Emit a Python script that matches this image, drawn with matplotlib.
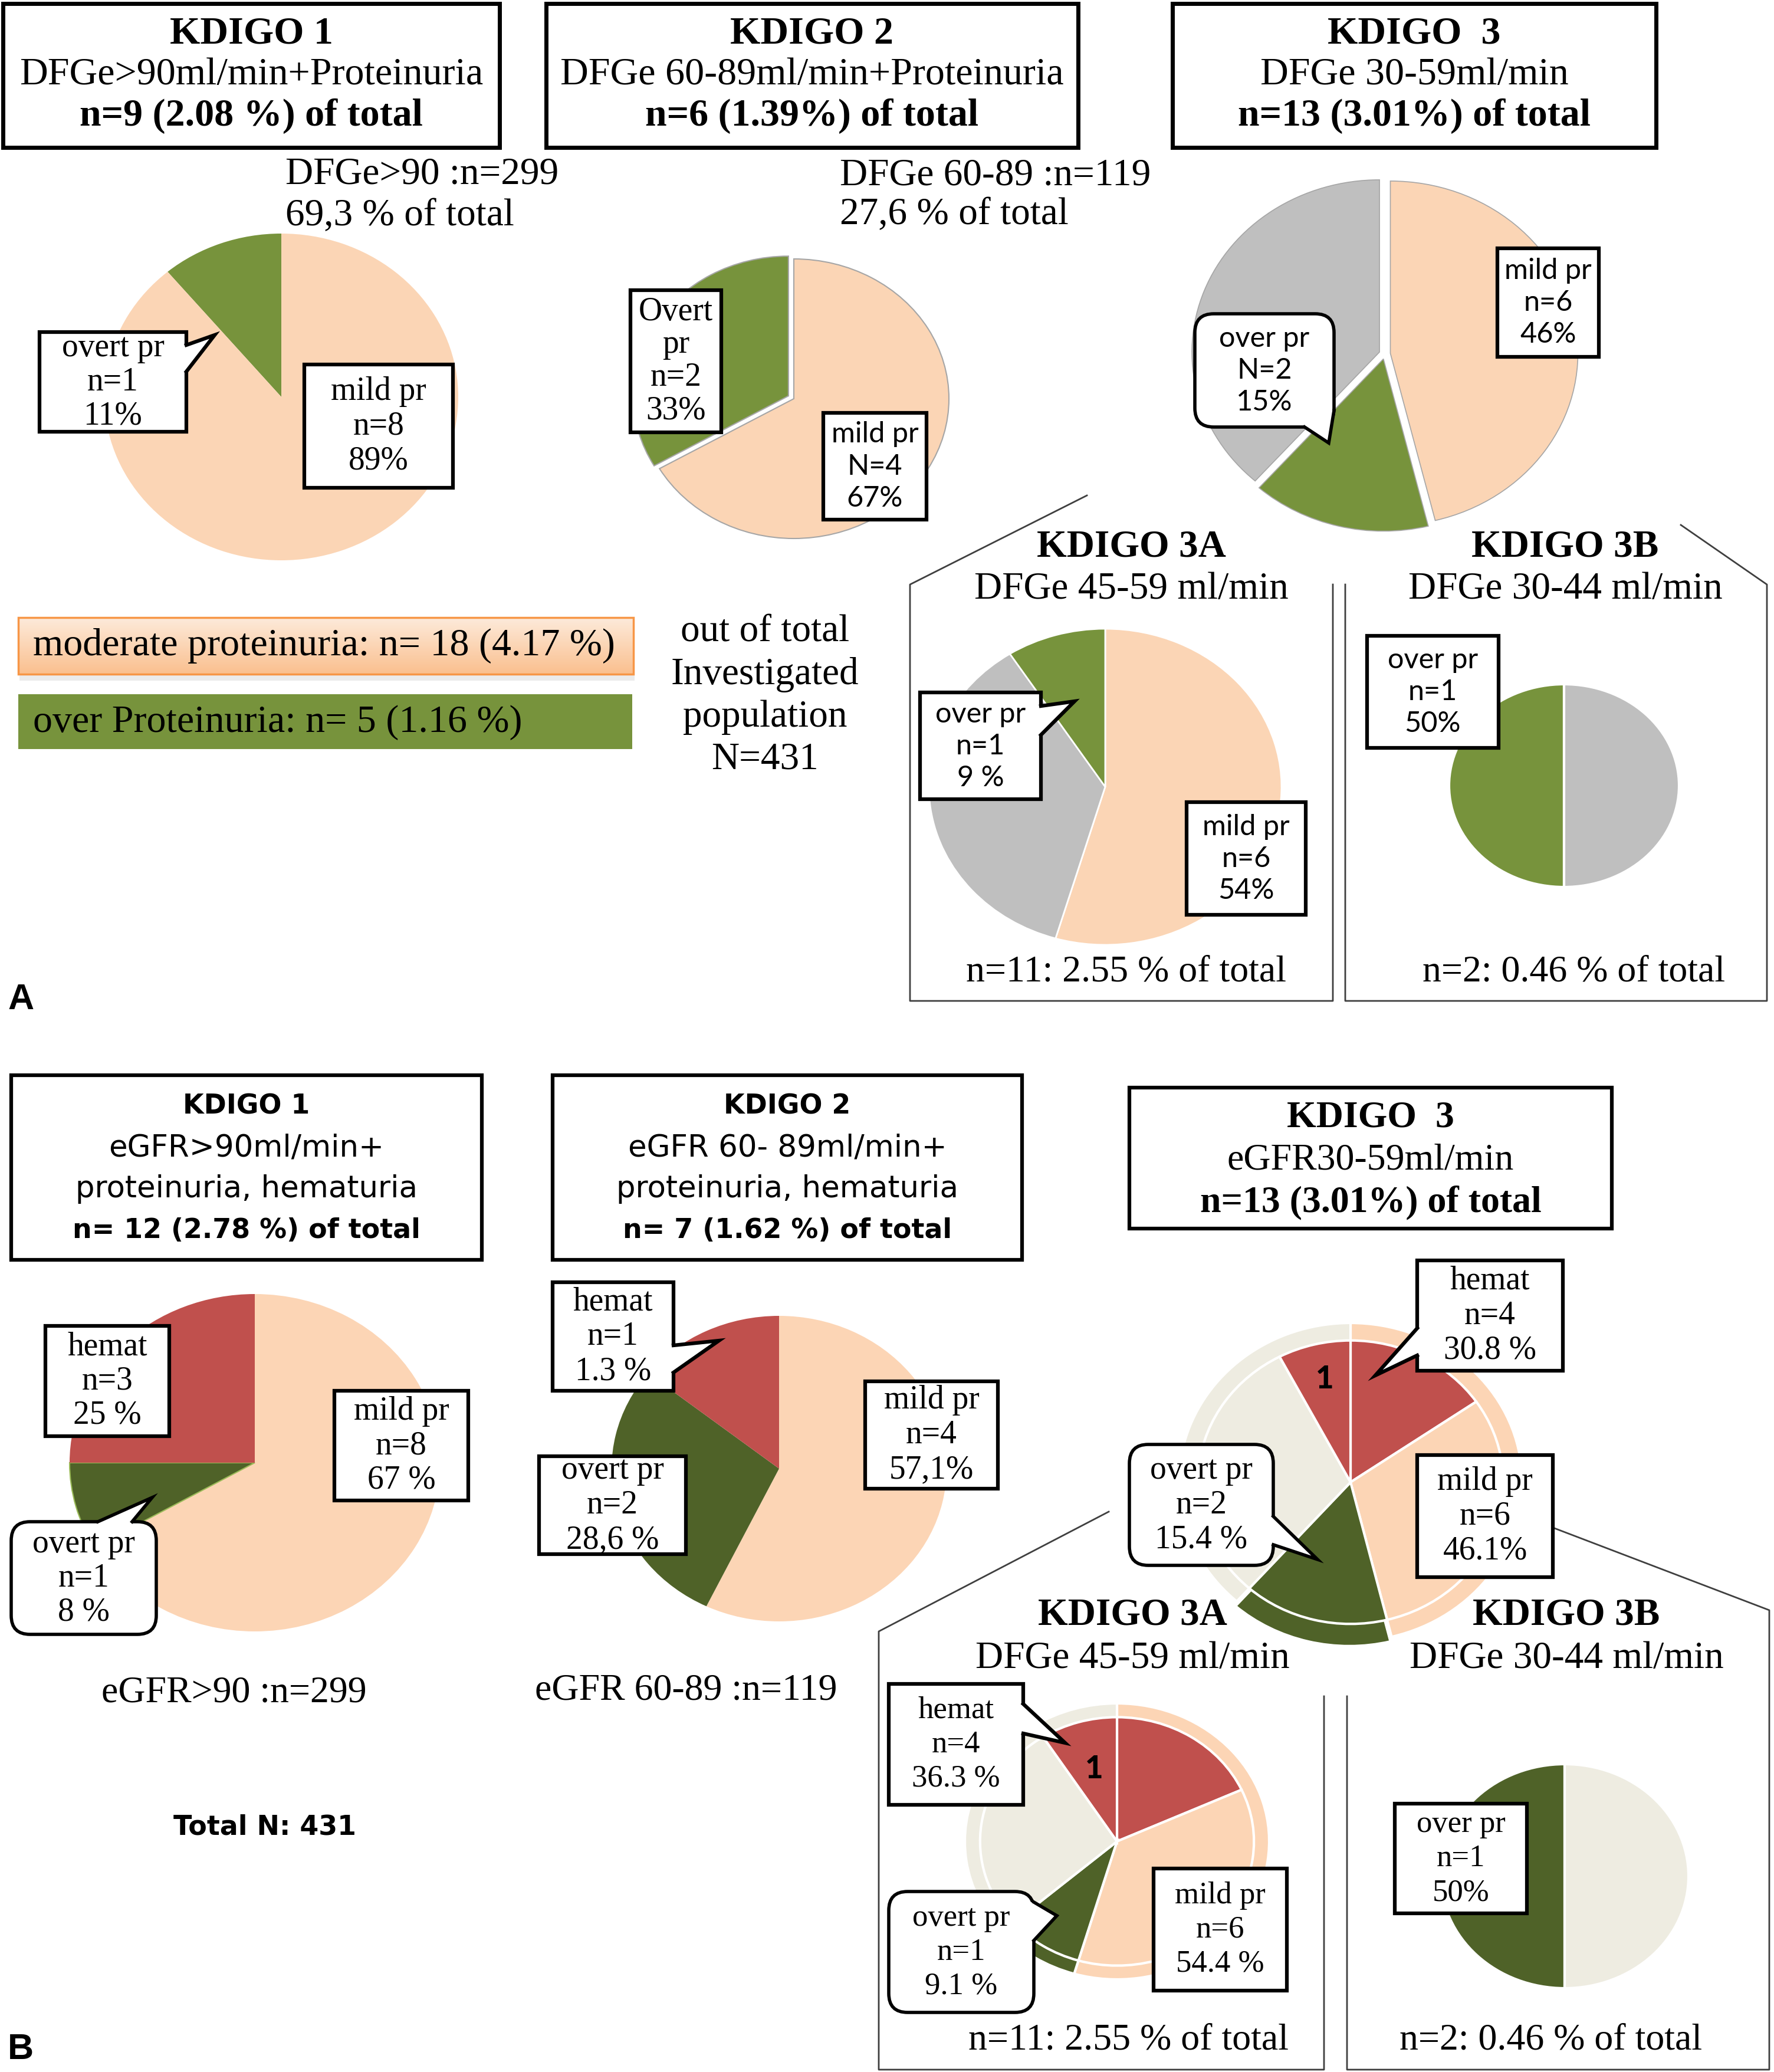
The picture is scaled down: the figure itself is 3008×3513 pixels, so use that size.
import numpy as np
import matplotlib
matplotlib.use("Agg")
import matplotlib.pyplot as plt
from matplotlib.patches import Rectangle, FancyBboxPatch, Polygon
from matplotlib.colors import LinearSegmentedColormap

W, H = 3008, 3513
SERIF = "Liberation Serif"
SANS = "Lato"
VERD = "DejaVu Sans"

peach_a, green_a, gray_a = "#FBD5B5", "#77933C", "#BFBFBF"
peach_b, green_b, red_b, gray_b = "#FCD5B5", "#4F6228", "#C0504D", "#EEECE1"

# panel A: counts per slice
a1_counts = [1, 8]          # overt, mild
a2_counts = [2, 4]          # overt, mild
a3_counts = [6, 2, 5]       # mild, overt, no proteinuria
a3a_counts = [6, 4, 1]      # mild, none, overt
a3b_counts = [1, 1]         # overt, none

# panel B: counts per slice
b1_counts = [8, 1, 3]       # mild, overt, hemat
b2_counts = [4, 2, 1]       # mild, overt, hemat
b3_outer = [6, 2, 5]        # mild, overt, none
b3_inner = [2, 4, 2, 4, 1]  # hemat, mild, overt, none, hemat
b3a_outer = [6, 1, 4]
b3a_inner = [2, 4, 1, 3, 1]
b3b_counts = [1, 1]         # overt, none

a_titles = [["KDIGO 1", "DFGe>90ml/min+Proteinuria", "n=9 (2.08 %) of total"],
            ["KDIGO 2", "DFGe 60-89ml/min+Proteinuria", "n=6 (1.39%) of total"],
            ["KDIGO  3", "DFGe 30-59ml/min", "n=13 (3.01%) of total"]]
b_titles = [["KDIGO 1", "eGFR>90ml/min+", "proteinuria, hematuria", "n= 12 (2.78 %) of total"],
            ["KDIGO 2", "eGFR 60- 89ml/min+", "proteinuria, hematuria", "n= 7 (1.62 %) of total"]]
b3_title = ["KDIGO  3", "eGFR30-59ml/min", "n=13 (3.01%) of total"]

fig = plt.figure(figsize=(W / 100, H / 100), dpi=100)
fig.patch.set_facecolor("white")


def pie(cx, cy, rx, ry, counts, colors, ccw=False, explode=None, ec="none", lw=0,
        inner=None, inner_colors=None, inner_r=0.89):
    m = 1.1
    ax = fig.add_axes([(cx - m * rx) / W, 1 - (cy + m * ry) / H, 2 * m * rx / W, 2 * m * ry / H])
    w, _ = ax.pie(counts, colors=colors, startangle=90, counterclock=ccw, explode=explode,
                  wedgeprops=dict(edgecolor=ec, linewidth=lw))
    if inner is not None:
        ax.pie(inner, colors=inner_colors, radius=inner_r, startangle=90, counterclock=ccw,
               wedgeprops=dict(edgecolor="white", linewidth=3))
    ax.set_aspect("auto")
    ax.set_xlim(-m, m)
    ax.set_ylim(-m, m)
    ax.axis("off")
    return w


# ---------------- pies ----------------
pie(477, 673, 300, 277, a1_counts, [green_a, peach_a], ccw=True)
pie(1346, 676, 263, 237, a2_counts, [green_a, peach_a], ccw=True, explode=[0.04, 0],
    ec="#A6A6A6", lw=1.5)
pie(2348, 600, 318, 292, a3_counts, [peach_a, green_a, gray_a], explode=[0.03, 0.03, 0.03],
    ec="#A6A6A6", lw=1.2)
pie(1874, 1334, 299, 268, a3a_counts, [peach_a, gray_a, green_a], ec="white", lw=2)
pie(2652, 1332, 195, 172, a3b_counts, [green_a, gray_a], ccw=True, ec="white", lw=3)

wb1 = pie(432, 2480, 314, 286, b1_counts, [peach_b, green_b, red_b])
wb1[1].set_edgecolor("#9BBB59")
wb1[1].set_linewidth(1.5)
pie(1321, 2490, 284, 259, b2_counts, [peach_b, green_b, red_b])
pie(2290, 2513, 291, 270, b3_outer, [peach_b, green_b, gray_b], explode=[0, 0.03, 0],
    ec="white", lw=3, inner=b3_inner, inner_colors=[red_b, peach_b, green_b, gray_b, red_b])
pie(1894, 3122, 258, 234, b3a_outer, [peach_b, green_b, gray_b], ec="white", lw=3,
    inner=b3a_inner, inner_colors=[red_b, peach_b, green_b, gray_b, red_b], inner_r=0.9)
pie(2653, 3181, 210, 190, b3b_counts, [green_b, gray_b], ccw=True, ec="white", lw=3)

# ---------------- overlay ----------------
ov = fig.add_axes([0, 0, 1, 1])
ov.set_xlim(0, W)
ov.set_ylim(H, 0)
ov.axis("off")
ov.patch.set_alpha(0)


def box(x0, y0, x1, y1, lw=4.5, rounded=False, tail=None):
    if rounded:
        p = FancyBboxPatch((x0, y0), x1 - x0, y1 - y0, boxstyle="round,pad=0,rounding_size=32",
                           fc="white", ec="black", lw=lw, zorder=3)
    else:
        p = Rectangle((x0, y0), x1 - x0, y1 - y0, fc="white", ec="black", lw=lw, zorder=3)
    ov.add_patch(p)
    if tail:
        b1, tip, b2 = tail

        def inward(b):
            x, y = b
            if abs(x - x0) < 3:
                return (x + 10, y)
            if abs(x - x1) < 3:
                return (x - 10, y)
            if abs(y - y0) < 3:
                return (x, y + 10)
            return (x, y - 10)
        ov.add_patch(Polygon([inward(b1), b1, tip, b2, inward(b2)], closed=True,
                             fc="white", ec="none", zorder=4))
        ov.plot([b1[0], tip[0], b2[0]], [b1[1], tip[1], b2[1]], color="black", lw=lw,
                zorder=5, solid_joinstyle="miter")


def stack(cx, cy, lines, gap, size, family=SERIF, weights=None, ha="center"):
    n = len(lines)
    for i, s in enumerate(lines):
        wt = weights[i] if weights else "normal"
        ov.text(cx, cy + (i - (n - 1) / 2) * gap, s, fontsize=size, family=family,
                fontweight=wt, ha=ha, va="center", zorder=6)


def label(x0, y0, x1, y1, lines, gap, size, family=SERIF, rounded=False, tail=None, lw=4.5):
    box(x0, y0, x1, y1, lw=lw, rounded=rounded, tail=tail)
    stack((x0 + x1) / 2, (y0 + y1) / 2, lines, gap, size, family)


# ---- panel A title boxes ----
for (x0, x1), lines in zip([(5, 847), (926, 1828), (1988, 2808)], a_titles):
    box(x0, 6, x1, 250, lw=5)
    stack((x0 + x1) / 2, 127, lines, 70, 47.5, weights=["bold", "normal", "bold"])

stack(484, 331, ["DFGe>90 :n=299", "69,3 % of total"], 71, 47, ha="left")
stack(1424, 331, ["DFGe 60-89 :n=119", "27,6 % of total"], 67, 47, ha="left")

# ---- panel A pie labels ----
label(67, 563, 316, 732, ["overt pr", "n=1", "11%"], 58, 40,
      tail=[(316, 585), (364, 568), (316, 630)])
label(516, 618, 768, 827, ["mild pr", "n=8", "89%"], 59, 40)
label(1069, 492, 1223, 733, ["Overt", "pr", "n=2", "33%"], 56, 40)
label(1396, 700, 1571, 881, ["mild pr", "N=4", "67%"], 54, 35, family=SANS)
label(2539, 421, 2711, 605, ["mild pr", "n=6", "46%"], 54, 35, family=SANS)
label(2026, 532, 2262, 724, ["over pr", "N=2", "15%"], 54, 35, family=SANS, rounded=True,
      tail=[(2212, 724), (2253, 751), (2262, 696)], lw=4)
label(1560, 1174, 1765, 1355, ["over pr", "n=1", "9 %"], 54, 35, family=SANS,
      tail=[(1765, 1197), (1822, 1189), (1765, 1246)])
label(2012, 1360, 2214, 1551, ["mild pr", "n=6", "54%"], 54, 35, family=SANS)
label(2318, 1078, 2541, 1268, ["over pr", "n=1", "50%"], 54, 35, family=SANS)

# ---- panel A KDIGO 3A / 3B frames ----
line_kw = dict(color="#3F3F3F", lw=2, zorder=2)
ov.plot([1843, 1543, 1543, 2260, 2260], [840, 991, 1697, 1697, 991], **line_kw)
ov.plot([2281, 2281, 2996, 2996, 2850], [991, 1697, 1697, 991, 890], **line_kw)
stack(1918, 963, ["KDIGO 3A", "DFGe 45-59 ml/min"], 72, 47, weights=["bold", "normal"])
stack(2654, 963, ["KDIGO 3B", "DFGe 30-44 ml/min"], 72, 47, weights=["bold", "normal"])
stack(1909, 1648, ["n=11: 2.55 % of total"], 0, 46)
stack(2669, 1648, ["n=2: 0.46 % of total"], 0, 46)

# ---- panel A summary bars ----
ov.add_patch(Rectangle((33, 1145), 1043, 9, fc="#D9D9D9", ec="none", alpha=0.5, zorder=1))
grad = LinearSegmentedColormap.from_list("bar", ["#FDEADA", "#FAC08F"])
ov.imshow(np.linspace(0, 1, 64).reshape(-1, 1), cmap=grad, extent=(31, 1074, 1143, 1047),
          aspect="auto", zorder=1)
ov.add_patch(Rectangle((31, 1047), 1043, 96, fc="none", ec="#F79646", lw=2.5, zorder=2))
ov.add_patch(Rectangle((31, 1177), 1041, 93, fc=green_a, ec="none", zorder=1))
ov.set_xlim(0, W)
ov.set_ylim(H, 0)
stack(56, 1095, ["moderate proteinuria: n= 18 (4.17 %)"], 0, 47.5, ha="left")
stack(56, 1225, ["over Proteinuria: n= 5 (1.16 %)"], 0, 47.5, ha="left")
stack(1297, 1180, ["out of total", "Investigated", "population", "N=431"], 72, 47)

ov.text(13, 1695, "A", fontsize=44, family="Liberation Sans", fontweight="bold",
        ha="left", va="center")

# ---- panel B title boxes ----
for (x0, x1), lines in zip([(19, 817), (937, 1733)], b_titles):
    box(x0, 1823, x1, 2136, lw=4.5)
    cx = (x0 + x1) / 2
    for i, s in enumerate(lines):
        bold = i in (0, 3)
        ov.text(cx, 1876 + i * 70, s, fontsize=33 if bold else 37, family=VERD,
                fontweight="bold" if bold else "normal", ha="center", va="center", zorder=6)
box(1915, 1844, 2733, 2083, lw=4.5)
stack(2324, 1967, b3_title, 72, 46, weights=["bold", "normal", "bold"])

# ---- panel B pie labels ----
label(77, 2248, 287, 2435, ["hemat", "n=3", "25 %"], 58, 40)
label(567, 2358, 794, 2544, ["mild pr", "n=8", "67 %"], 58, 40)
label(19, 2580, 265, 2771, ["overt pr", "n=1", "8 %"], 58, 40, rounded=True,
      tail=[(166, 2580), (258, 2539), (224, 2580)], lw=4)
label(937, 2174, 1142, 2358, ["hemat", "n=1", "1.3 %"], 59, 40,
      tail=[(1142, 2281), (1219, 2273), (1142, 2327)])
label(914, 2469, 1163, 2635, ["overt pr", "n=2", "28,6 %"], 59, 40)
label(1467, 2342, 1692, 2524, ["mild pr", "n=4", "57,1%"], 59, 40)
label(2403, 2137, 2650, 2324, ["hemat", "n=4", "30.8 %"], 59, 40,
      tail=[(2403, 2252), (2332, 2332), (2403, 2298)])
label(1915, 2449, 2159, 2654, ["overt pr", "n=2", "15.4 %"], 59, 40, rounded=True,
      tail=[(2159, 2571), (2234, 2644), (2159, 2619)], lw=4)
label(2403, 2467, 2633, 2674, ["mild pr", "n=6", "46.1%"], 59, 40)
ov.text(2246, 2338, "1", fontsize=38, family=SANS, fontweight="black", ha="center",
        va="center", zorder=6)

label(1507, 2855, 1735, 3060, ["hemat", "n=4", "36.3 %"], 58, 38,
      tail=[(1735, 2889), (1806, 2955), (1735, 2939)])
label(1507, 3207, 1753, 3412, ["overt pr", "n=1", "9.1 %"], 58, 38, rounded=True,
      tail=[(1753, 3225), (1792, 3248), (1753, 3290)], lw=4)
label(1956, 3168, 2182, 3375, ["mild pr", "n=6", "54.4 %"], 58, 38)
label(2365, 3058, 2589, 3244, ["over pr", "n=1", "50%"], 58, 38)
ov.text(1855, 2999, "1", fontsize=38, family=SANS, fontweight="black", ha="center",
        va="center", zorder=6)

stack(397, 2870, ["eGFR>90 :n=299"], 0, 46)
stack(1163, 2866, ["eGFR 60-89 :n=119"], 0, 46)
ov.text(449, 3098, "Total N: 431", fontsize=33, family=VERD, fontweight="bold",
        ha="center", va="center")

# ---- panel B KDIGO 3A / 3B frames ----
ov.plot([1880, 1490, 1490, 2245, 2245], [2563, 2766, 3509, 3509, 2876], **line_kw)
ov.plot([2284, 2284, 3000, 3000, 2633], [2876, 3509, 3509, 2730, 2590], **line_kw)
stack(1920, 2775, ["KDIGO 3A", "DFGe 45-59 ml/min"], 74, 47, weights=["bold", "normal"])
stack(2656, 2775, ["KDIGO 3B", "DFGe 30-44 ml/min"], 74, 47, weights=["bold", "normal"])
stack(1914, 3459, ["n=11: 2.55 % of total"], 0, 46)
stack(2630, 3459, ["n=2: 0.46 % of total"], 0, 46)

ov.text(13, 3475, "B", fontsize=44, family="Liberation Sans", fontweight="bold",
        ha="left", va="center")

fig.savefig("out.png", dpi=100, facecolor="white")
